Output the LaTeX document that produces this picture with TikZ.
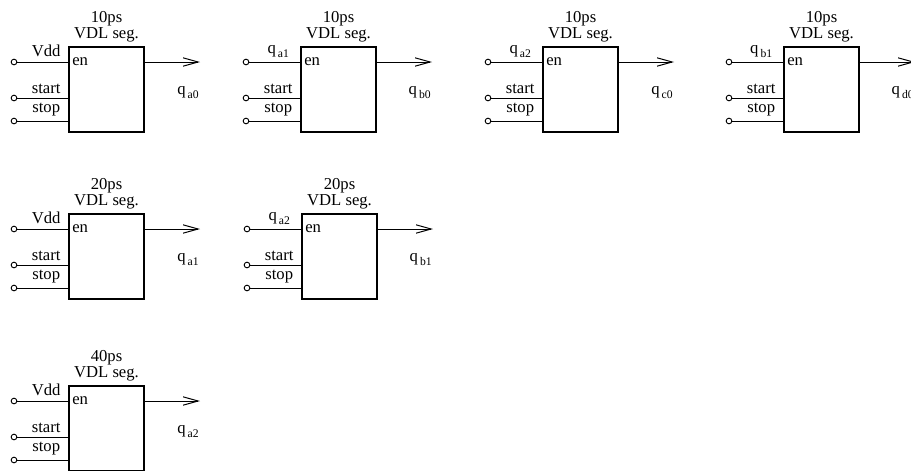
\documentclass[tikz,border=0pt]{standalone}
\usepackage{fontspec}
\setmainfont{Liberation Serif}
\usetikzlibrary{arrows.meta, positioning, calc}

\newcommand{\qsig}[1]{q\kern1.2pt\raisebox{-2.2pt}{\scriptsize #1}}

\tikzset{
  segbox/.style={draw, line width=1.2pt, minimum width=45pt, minimum height=51pt,
    anchor=north west, inner sep=0pt},
  pin/.style={draw, circle, line width=0.55pt, minimum size=3.4pt, inner sep=0pt},
  wire/.style={line width=0.6pt},
  sig/.style={above, inner sep=2.6pt, pos=0.57},
}

\begin{document}
\begin{tikzpicture}[x=0.6pt, y=-0.6pt, >={Straight Barb[length=9pt,width=5pt]}]
  \useasboundingbox (0,0) rectangle (911,470);
  \clip (0,0) rectangle (911,470);
  \foreach \nm/\bx/\by/\dl/\inl in {a0/68/46/10/Vdd, b0/300/46/10/\qsig{a1},
      c0/542/46/10/\qsig{a2}, d0/783/46/10/\qsig{b1}, a1/68/213/20/Vdd,
      b1/301/213/20/\qsig{a2}, a2/68/385/40/Vdd} {
    \node[segbox] (box\nm) at (\bx,\by) {};
    \node[anchor=south, align=center, inner sep=2pt,
      font=\fontsize{10}{9.5}\selectfont] (ttl\nm) at (box\nm.north) {\dl ps\\VDL seg.};
    \node[anchor=west, inner sep=0pt] (en\nm) at (\bx+4,\by+16) {en};
    % input pins
    \node[pin] (pen\nm) at (\bx-54,\by+16) {};
    \node[pin] (pst\nm) at (\bx-54,\by+52) {};
    \node[pin] (psp\nm) at (\bx-54,\by+75) {};
    \draw[wire] (pen\nm) -- (pen\nm -| box\nm.west) node[sig] {\inl};
    \draw[wire] (pst\nm) -- (pst\nm -| box\nm.west) node[sig] {start};
    \draw[wire] (psp\nm) -- (psp\nm -| box\nm.west) node[sig] {stop};
    % output
    \coordinate (out\nm) at (\bx+132,\by+16);
    \draw[wire, ->] (en\nm -| box\nm.east) -- (out\nm);
    \node[anchor=north east, inner sep=0pt] (lab\nm) at ([shift={(-1,24)}]out\nm) {\qsig{\nm}};
  }
\end{tikzpicture}
\end{document}
